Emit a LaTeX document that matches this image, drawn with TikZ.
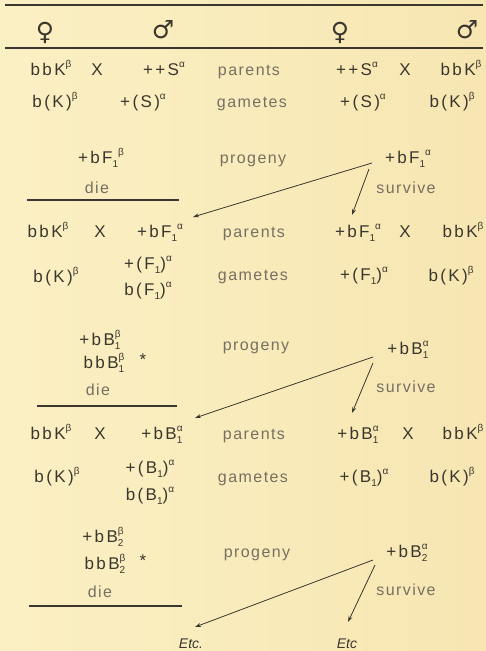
\documentclass[tikz,border=0pt]{standalone}
\usepackage{fontspec}
\setmainfont{Liberation Sans}
\newfontfamily\gfont[LetterSpace=14]{Liberation Sans}
\newfontfamily\lfont[LetterSpace=9]{Liberation Sans}
\newfontfamily\symfont{DejaVu Sans}
\usetikzlibrary{arrows.meta}
\definecolor{bgl}{RGB}{251,240,196}
\definecolor{bgr}{RGB}{247,230,178}
\definecolor{ink}{RGB}{58,55,46}
\definecolor{soft}{RGB}{118,112,98}
\newcommand{\gsup}[1]{\raisebox{0.85ex}{\fontsize{10}{10}\selectfont #1}}
\newcommand{\gsub}[1]{\raisebox{-0.5ex}{\fontsize{10}{10}\selectfont #1}}
\newcommand{\gsubsup}[2]{\rlap{\gsub{#1}}\gsup{#2}}
\begin{document}
\begin{tikzpicture}[x=1pt,y=-1pt,
  gt/.style={text=ink,font=\gfont\fontsize{17}{17}\selectfont,inner sep=0pt,anchor=base},
  lbl/.style={text=soft,font=\lfont\fontsize{16}{16}\selectfont,inner sep=0pt,anchor=base},
  sym/.style={text=ink,font=\symfont\fontsize{25}{25}\selectfont,inner sep=0pt},
  etc/.style={text=ink,font=\itshape\fontsize{14}{14}\selectfont,inner sep=0pt,anchor=base},
  rule/.style={draw=ink,line width=1.3pt},
  arr/.style={draw=ink,line width=0.8pt,-{Stealth[length=6pt,width=4pt]}}]
\shade[left color=bgl,right color=bgr] (0,0) rectangle (486,651);
\useasboundingbox (0,0) rectangle (486,651);
% header
\draw[rule] (5,5) -- (483,5);
\node[sym] (hf1) at (45,33) {♀};
\node[sym] (hm1) at (163,30) {♂};
\node[sym] (hf2) at (340,33) {♀};
\node[sym] (hm2) at (467,30) {♂};
\draw[rule] (5,48) -- (483,48);
% generation 0
\node[gt] (p0a) at (51,75) {bbK\gsup{β}};
\node[gt] (p0x) at (97,75) {X};
\node[gt] (p0b) at (164,75) {++S\gsup{α}};
\node[lbl] (p0l) at (249,75) {parents};
\node[gt] (p0c) at (357,75) {++S\gsup{α}};
\node[gt] (p0y) at (405,75) {X};
\node[gt] (p0d) at (461,75) {bbK\gsup{β}};
\node[gt] (g0a) at (55,107) {b(K)\gsup{β}};
\node[gt] (g0b) at (143,107) {+(S)\gsup{α}};
\node[lbl] (g0l) at (252,107) {gametes};
\node[gt] (g0c) at (363,107) {+(S)\gsup{α}};
\node[gt] (g0d) at (452,107) {b(K)\gsup{β}};
% progeny 1
\node[gt] (q1a) at (101,163) {+bF\gsub{1}\gsup{β}};
\node[lbl] (q1l) at (253,163) {progeny};
\node[gt] (q1b) at (408,163) {+bF\gsub{1}\gsup{α}};
\node[lbl] (d1) at (97,193) {die};
\node[lbl] (s1) at (406,193) {survive};
\draw[rule] (27,200) -- (179,200);
% generation 1
\node[gt] (p1a) at (48,237) {bbK\gsup{β}};
\node[gt] (p1x) at (100,237) {X};
\node[gt] (p1b) at (160,237) {+bF\gsub{1}\gsup{α}};
\node[lbl] (p1l) at (254,237) {parents};
\node[gt] (p1c) at (358,237) {+bF\gsub{1}\gsup{α}};
\node[gt] (p1y) at (405,237) {X};
\node[gt] (p1d) at (463,237) {bbK\gsup{β}};
\node[gt] (g1a) at (56,282) {b(K)\gsup{β}};
\node[gt] (g1b) at (148,269) {+(F\gsub{1})\gsup{α}};
\node[gt] (g1e) at (148,295) {b(F\gsub{1})\gsup{α}};
\node[lbl] (g1l) at (253,280) {gametes};
\node[gt] (g1c) at (364,280) {+(F\gsub{1})\gsup{α}};
\node[gt] (g1d) at (451,281) {b(K)\gsup{β}};
% progeny 2
\node[gt] (q2a) at (100,345) {+bB\gsubsup{1}{β}};
\node[gt] (q2c) at (104,368) {bbB\gsubsup{1}{β}};
\node[gt] (st2) at (143,365) {*};
\node[lbl] (q2l) at (256,350) {progeny};
\node[gt] (q2b) at (408,354) {+bB\gsubsup{1}{α}};
\node[lbl] (d2) at (98,395) {die};
\node[lbl] (s2) at (406,392) {survive};
\draw[rule] (37,406) -- (177,406);
% generation 2
\node[gt] (p2a) at (51,439) {bbK\gsup{β}};
\node[gt] (p2x) at (100,439) {X};
\node[gt] (p2b) at (162,439) {+bB\gsubsup{1}{α}};
\node[lbl] (p2l) at (254,439) {parents};
\node[gt] (p2c) at (358,439) {+bB\gsubsup{1}{α}};
\node[gt] (p2y) at (408,439) {X};
\node[gt] (p2d) at (463,439) {bbK\gsup{β}};
\node[gt] (g2a) at (57,482) {b(K)\gsup{β}};
\node[gt] (g2b) at (150,473) {+(B\gsub{1})\gsup{α}};
\node[gt] (g2e) at (150,500) {b(B\gsub{1})\gsup{α}};
\node[lbl] (g2l) at (253,482) {gametes};
\node[gt] (g2c) at (364,482) {+(B\gsub{1})\gsup{α}};
\node[gt] (g2d) at (452,482) {b(K)\gsup{β}};
% progeny 3
\node[gt] (q3a) at (103,542) {+bB\gsubsup{2}{β}};
\node[gt] (q3c) at (105,569) {bbB\gsubsup{2}{β}};
\node[gt] (st3) at (143,566) {*};
\node[lbl] (q3l) at (257,557) {progeny};
\node[gt] (q3b) at (407,557) {+bB\gsubsup{2}{α}};
\node[lbl] (d3) at (100,597) {die};
\node[lbl] (s3) at (406,595) {survive};
\draw[rule] (29,606) -- (182,606);
\node[etc] (e1) at (191,648) {Etc.};
\node[etc] (e2) at (347,648) {Etc};
% arrow ends
\coordinate (a1s) at (372,163);
\coordinate (a1e) at (193,217);
\coordinate (a2s) at (369,169);
\coordinate (a2e) at (352,215);
\coordinate (a3s) at (373,357);
\coordinate (a3e) at (195,418);
\coordinate (a4s) at (373,363);
\coordinate (a4e) at (352,413);
\coordinate (a5s) at (373,560);
\coordinate (a6s) at (375,565);
\coordinate (a5e) at (195,627);
\coordinate (a6e) at (348,622);
\draw[arr] (a1s) -- (a1e);
\draw[arr] (a2s) -- (a2e);
\draw[arr] (a3s) -- (a3e);
\draw[arr] (a4s) -- (a4e);
\draw[arr] (a5s) -- (a5e);
\draw[arr] (a6s) -- (a6e);
\end{tikzpicture}
\end{document}
